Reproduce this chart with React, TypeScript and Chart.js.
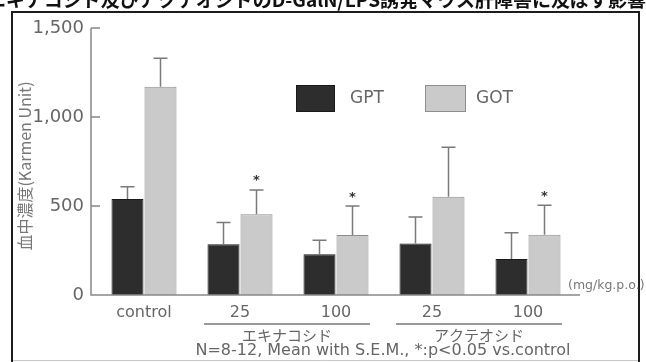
import { useEffect, useRef } from "react";
import { Chart, registerables } from "chart.js";
Chart.register(...registerables);

const categories = ["control", "25", "100", "25", "100"];
const seriesNames = ["GPT", "GOT"];
const gptValues = [540, 285, 229, 290, 202];
const gptSem = [68, 123, 78, 148, 148];
const gotValues = [1170, 453, 337, 552, 339];
const gotSem = [160, 137, 163, 278, 165];
const significant = [false, true, true, false, true];
const groupNames = ["エキナコシド", "アクテオシド"];
const groupStart = [1, 3];
const groupEnd = [2, 4];
const yTicks = [0, 500, 1000, 1500];
const unitLabel = "(mg/kg.p.o.)";
const yTitle = "血中濃度(Karmen Unit)";
const footnote = "N=8-12, Mean with S.E.M., *:p<0.05 vs.control";
const titleText = "図2 エキナコシド及びアクテオシドのD-GalN/LPS誘発マウス肝障害に及ぼす影響";

const GPT_FILL = "#2d2d2d";
const GPT_EDGE = "#1a1a1a";
const GOT_FILL = "#cacaca";
const GOT_EDGE = "#8e8e8e";
const TEXT = "#666";
const LINE = "#888";
const LATIN = "'DejaVu Sans', sans-serif";
const CJK = "'Noto Sans CJK JP', sans-serif";

const semSets = [gptSem, gotSem];

const decor = {
  id: "decor",
  beforeDraw(chart: any) {
    const { ctx, width, height } = chart;
    ctx.save();
    ctx.fillStyle = "#fff";
    ctx.fillRect(0, 0, width, height);
    // clipped title
    ctx.font = `bold 19px ${CJK}`;
    ctx.fillStyle = "#111";
    ctx.textAlign = "right";
    ctx.textBaseline = "alphabetic";
    ctx.fillText(titleText, 646, 7);
    // frame
    ctx.strokeStyle = "#1c1c1c";
    ctx.lineWidth = 2;
    ctx.beginPath();
    ctx.moveTo(12, 362);
    ctx.lineTo(12, 12);
    ctx.lineTo(639, 12);
    ctx.lineTo(639, 362);
    ctx.stroke();
    ctx.strokeStyle = "#c8c8c8";
    ctx.lineWidth = 1;
    ctx.beginPath();
    ctx.moveTo(13, 360.5);
    ctx.lineTo(638, 360.5);
    ctx.stroke();
    ctx.restore();
  },
  afterDatasetsDraw(chart: any) {
    const { ctx, chartArea } = chart;
    const ys = chart.scales.y;
    ctx.save();
    // error bars + significance marks
    chart.data.datasets.forEach((ds: any, di: number) => {
      const meta = chart.getDatasetMeta(di);
      const sem = semSets[di];
      meta.data.forEach((bar: any, i: number) => {
        const v = ds.data[i];
        const yTop = ys.getPixelForValue(v);
        const yErr = ys.getPixelForValue(v + sem[i]);
        ctx.strokeStyle = "#7a7a7a";
        ctx.lineWidth = 1.5;
        ctx.beginPath();
        ctx.moveTo(bar.x, yTop);
        ctx.lineTo(bar.x, yErr);
        ctx.moveTo(bar.x - 7, yErr);
        ctx.lineTo(bar.x + 7, yErr);
        ctx.stroke();
        if (di === 1 && significant[i]) {
          ctx.fillStyle = "#333";
          ctx.font = `bold 13px ${LATIN}`;
          ctx.textAlign = "center";
          ctx.textBaseline = "alphabetic";
          ctx.fillText("*", bar.x, yErr - 5.5);
        }
      });
    });
    // axes
    const ax = chartArea.left - 5;
    const top = ys.getPixelForValue(yTicks[yTicks.length - 1]);
    ctx.strokeStyle = LINE;
    ctx.lineWidth = 1.5;
    ctx.beginPath();
    ctx.moveTo(ax, top);
    ctx.lineTo(ax, chartArea.bottom);
    ctx.lineTo(chartArea.right + 4, chartArea.bottom);
    yTicks.forEach((t) => {
      const y = ys.getPixelForValue(t);
      ctx.moveTo(ax, y);
      ctx.lineTo(ax + 9, y);
    });
    ctx.stroke();
    ctx.restore();
  },
  afterDraw(chart: any) {
    const { ctx, chartArea } = chart;
    const xs = chart.scales.x;
    ctx.save();
    // legend
    const boxes = [
      { x: 296, w: 39, tx: 350 },
      { x: 425, w: 41, tx: 476 },
    ];
    chart.data.datasets.forEach((ds: any, di: number) => {
      const b = boxes[di];
      ctx.fillStyle = ds.backgroundColor;
      ctx.fillRect(b.x, 85, b.w, 27);
      ctx.strokeStyle = ds.borderColor;
      ctx.lineWidth = 1;
      ctx.strokeRect(b.x + 0.5, 85.5, b.w - 1, 26);
      ctx.fillStyle = TEXT;
      ctx.font = `17px ${LATIN}`;
      ctx.textAlign = "left";
      ctx.textBaseline = "middle";
      ctx.fillText(ds.label, b.tx, 99);
    });
    // y title
    ctx.save();
    ctx.translate(25, 166);
    ctx.rotate(-Math.PI / 2);
    ctx.fillStyle = "#777";
    ctx.font = `16px ${CJK}`;
    ctx.textAlign = "center";
    ctx.textBaseline = "middle";
    ctx.fillText(yTitle, 0, 0);
    ctx.restore();
    // unit label
    ctx.fillStyle = "#777";
    ctx.font = `12.5px ${LATIN}`;
    ctx.textAlign = "left";
    ctx.textBaseline = "middle";
    ctx.fillText(unitLabel, 568, 286);
    // group underlines and names
    groupNames.forEach((name, gi) => {
      const xa = xs.getPixelForValue(groupStart[gi]) - 36;
      const xb = xs.getPixelForValue(groupEnd[gi]) + 34;
      const y = chartArea.bottom + 29;
      ctx.strokeStyle = "#777";
      ctx.lineWidth = 1.5;
      ctx.beginPath();
      ctx.moveTo(xa, y);
      ctx.lineTo(xb, y);
      ctx.stroke();
      ctx.fillStyle = TEXT;
      ctx.font = `15px ${CJK}`;
      ctx.textAlign = "center";
      ctx.textBaseline = "middle";
      ctx.fillText(name, (xa + xb) / 2, chartArea.bottom + 40);
    });
    // footnote
    ctx.fillStyle = TEXT;
    ctx.font = `16px ${LATIN}`;
    ctx.textAlign = "center";
    ctx.textBaseline = "middle";
    ctx.fillText(footnote, 383, 351);
    ctx.restore();
  },
};

export default function App() {
  const ref = useRef<HTMLCanvasElement>(null);
  useEffect(() => {
    const chart = new Chart(ref.current as HTMLCanvasElement, {
      type: "bar",
      data: {
        labels: categories,
        datasets: [
          {
            label: seriesNames[0],
            data: gptValues,
            backgroundColor: GPT_FILL,
            borderColor: GPT_EDGE,
            borderWidth: 1,
            barPercentage: 0.97,
            categoryPercentage: 0.6875,
          },
          {
            label: seriesNames[1],
            data: gotValues,
            backgroundColor: GOT_FILL,
            borderColor: GOT_EDGE,
            borderWidth: 1,
            barPercentage: 0.97,
            categoryPercentage: 0.6875,
          },
        ],
      },
      options: {
        animation: false,
        responsive: false,
        devicePixelRatio: 1,
        layout: { padding: { left: 0, right: 70, top: 28, bottom: 0 } },
        plugins: {
          legend: { display: false },
          tooltip: { enabled: false },
        },
        scales: {
          x: {
            grid: { display: false, drawTicks: false },
            border: { display: false },
            ticks: {
              color: TEXT,
              font: { family: LATIN, size: 16 },
              padding: 8,
              maxRotation: 0,
              autoSkip: false,
            },
            afterFit: (s: any) => {
              s.height = 67;
            },
          },
          y: {
            min: 0,
            max: 1500,
            grid: { display: false, drawTicks: false },
            border: { display: false },
            afterBuildTicks: (s: any) => {
              s.ticks = yTicks.map((v) => ({ value: v }));
            },
            ticks: {
              color: TEXT,
              font: { family: LATIN, size: 18 },
              padding: 12,
              callback: (v: any) => Number(v).toLocaleString("en-US"),
            },
            afterFit: (s: any) => {
              s.width = 96;
            },
          },
        },
      },
      plugins: [decor],
    } as any);
    return () => chart.destroy();
  }, []);
  return (
    <div style={{ position: "fixed", left: 0, top: 0, width: 646, height: 362, background: "#fff" }}>
      <canvas ref={ref} width={646} height={362} style={{ display: "block", width: 646, height: 362 }} />
    </div>
  );
}
